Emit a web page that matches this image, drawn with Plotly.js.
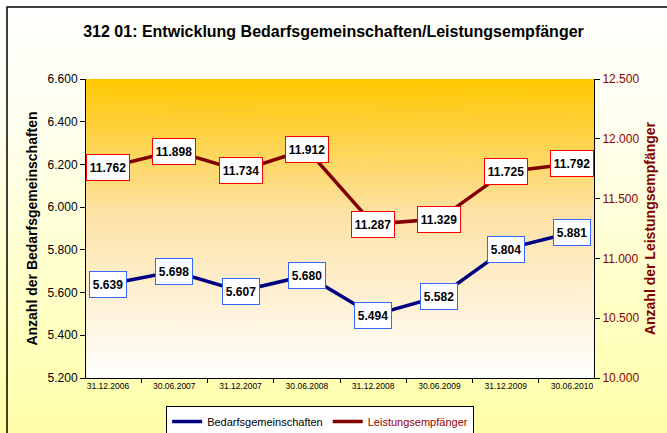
<!DOCTYPE html>
<html>
<head>
<meta charset="utf-8">
<script src="https://cdn.plot.ly/plotly-3.0.1.min.js"></script>
<style>
html,body{margin:0;padding:0;}
body{width:667px;height:433px;background:linear-gradient(to bottom,#ffffff 0%,#ffffee 30%,#ffffa8 100%);}
#chart{width:667px;height:433px;}
</style>
</head>
<body>
<div id="chart"></div>
<script>
var categories = ["31.12.2006","30.06.2007","31.12.2007","30.06.2008","31.12.2008","30.06.2009","31.12.2009","30.06.2010"];
var bedarfsgemeinschaften = [5639,5698,5607,5680,5494,5582,5804,5881];
var leistungsempfaenger = [11762,11898,11734,11912,11287,11329,11725,11792];
var leftTicks = [5200,5400,5600,5800,6000,6200,6400,6600];
var rightTicks = [10000,10500,11000,11500,12000,12500];

function fmt(v){ return String(v).replace(/\B(?=(\d{3})+(?!\d))/g,"."); }

var FONT = "'Liberation Sans', Arial, sans-serif";

// gradient for plot area
var cv = document.createElement("canvas");
cv.width = 10; cv.height = 300;
var ctx = cv.getContext("2d");
var g = ctx.createLinearGradient(0,0,0,300);
g.addColorStop(0,"#ffc800");
g.addColorStop(0.45,"#fde2a6");
g.addColorStop(1,"#ffffff");
ctx.fillStyle = g; ctx.fillRect(0,0,10,300);
var gradURL = cv.toDataURL();

var traces = [
  {x:categories, y:bedarfsgemeinschaften, type:"scatter", mode:"lines", name:"Bedarfsgemeinschaften",
   line:{color:"#000080", width:3.5}, yaxis:"y", hoverinfo:"y"},
  {x:categories, y:leistungsempfaenger, type:"scatter", mode:"lines",
   name:'<span style="color:#990000">Leistungsempfänger</span>',
   line:{color:"#800000", width:3.5}, yaxis:"y2", hoverinfo:"y"}
];

var annotations = [];
categories.forEach(function(c,i){
  annotations.push({x:c, y:bedarfsgemeinschaften[i], xref:"x", yref:"y", text:"<b>"+fmt(bedarfsgemeinschaften[i])+"</b>",
    showarrow:false, bgcolor:"#ffffff", bordercolor:"#3366ff", borderwidth:1, width:34, height:23,
    font:{family:FONT, size:12, color:"#000000"}});
  annotations.push({x:c, y:leistungsempfaenger[i], xref:"x", yref:"y2", text:"<b>"+fmt(leistungsempfaenger[i])+"</b>",
    showarrow:false, bgcolor:"#ffffff", bordercolor:"#ff0000", borderwidth:1, width:40, height:23,
    font:{family:FONT, size:12, color:"#000000"}});
});

var layout = {
  width:667, height:433,
  margin:{l:86, r:73, t:79, b:55},
  paper_bgcolor:"rgba(0,0,0,0)",
  plot_bgcolor:"rgba(0,0,0,0)",
  font:{family:FONT, color:"#000000"},
  title:{text:"<b>312 01: Entwicklung Bedarfsgemeinschaften/Leistungsempfänger</b>",
    font:{size:16, color:"#000000"}, x:0.5, xanchor:"center", y:1-31/433, yanchor:"middle", yref:"container"},
  xaxis:{type:"category", tickson:"boundaries", ticks:"outside", ticklen:4, tickcolor:"#000", showline:true,
    linecolor:"#000", linewidth:1, showgrid:false, zeroline:false, tickfont:{size:8.5}, tickangle:0, automargin:false},
  yaxis:{range:[5200,6600], tickvals:leftTicks, ticktext:leftTicks.map(fmt), ticks:"outside", ticklen:5,
    tickcolor:"#000", showline:true, linecolor:"#000", linewidth:1, showgrid:false, zeroline:false, automargin:false,
    tickfont:{size:12}, title:{text:"<b>Anzahl der Bedarfsgemeinschaften</b>", font:{size:14, color:"#000"}, standoff:6}},
  yaxis2:{range:[10000,12500], overlaying:"y", side:"right", tickvals:rightTicks, ticktext:rightTicks.map(fmt),
    ticks:"outside", ticklen:5, tickcolor:"#000", showline:true, linecolor:"#000", linewidth:1, showgrid:false,
    zeroline:false, automargin:false, tickfont:{size:12, color:"#8b0000"},
    title:{text:"<b>Anzahl der Leistungsempfänger</b>", font:{size:14, color:"#800000"}, standoff:6}},
  legend:{orientation:"h", x:0.48, xanchor:"center", xref:"container", y:1-406/433, yanchor:"top", yref:"container",
    bgcolor:"#ffffff", bordercolor:"#000000", borderwidth:1, font:{size:11, color:"#000"}, itemwidth:30,
    tracegroupgap:0},
  showlegend:true,
  images:[{source:gradURL, xref:"paper", yref:"paper", x:0, y:1, sizex:1, sizey:1, sizing:"stretch", layer:"below"}],
  shapes:[{type:"rect", xref:"paper", yref:"paper", x0:(7-86)/508, x1:(700-86)/508, y0:(378-460)/299, y1:(378-7)/299,
    line:{color:"#000000", width:1.5}, fillcolor:"rgba(0,0,0,0)", layer:"below"}],
  annotations:annotations
};

Plotly.newPlot("chart", traces, layout, {displayModeBar:false, staticPlot:true});
</script>
</body>
</html>
